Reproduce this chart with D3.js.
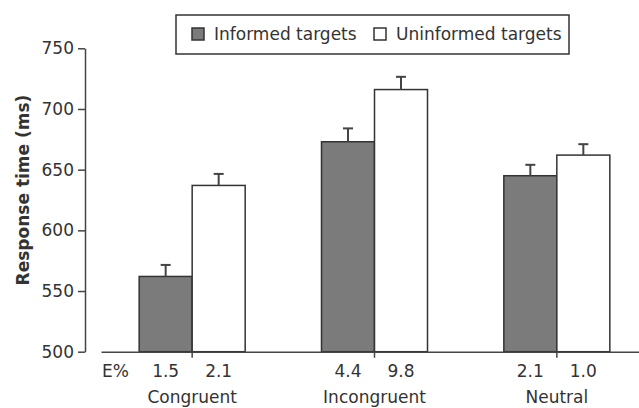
<!DOCTYPE html>
<html>
<head>
<meta charset="utf-8">
<script src="https://cdn.jsdelivr.net/npm/d3@7"></script>
<style>
  body { margin: 0; background: #fff; }
  svg text { font-family: "DejaVu Sans", Verdana, sans-serif; fill: #333; }
</style>
</head>
<body>
<div id="chart"></div>
<script>
// data
const groups = ["Congruent", "Incongruent", "Neutral"];
const series = ["Informed targets", "Uninformed targets"];
const informedRT = [562, 673, 645];
const uninformedRT = [637, 716, 662];
const informedSE = [9.5, 11, 9];
const uninformedSE = [9.5, 10.5, 9];
const informedErr = ["1.5", "4.4", "2.1"];
const uninformedErr = ["2.1", "9.8", "1.0"];
const yTicks = [500, 550, 600, 650, 700, 750];

const rows = [];
groups.forEach((g, i) => {
  rows.push({ group: g, key: series[0], rt: informedRT[i], se: informedSE[i], err: informedErr[i] });
  rows.push({ group: g, key: series[1], rt: uninformedRT[i], se: uninformedSE[i], err: uninformedErr[i] });
});

const svg = d3.select("#chart").append("svg")
  .attr("width", 639)
  .attr("height", 408);

const color = d3.scaleOrdinal().domain(series).range(["#7b7b7b", "#ffffff"]);

// scales
const y = d3.scaleLinear().domain([500, 750]).range([351.7, 48.3]);
const x0 = d3.scaleBand().domain(groups).range([101, 648]);
const x1 = d3.scaleBand().domain(series).range([0, x0.bandwidth()]).paddingOuter(0.72);

// y axis
const yAxis = svg.append("g")
  .attr("transform", "translate(85,0)")
  .call(d3.axisLeft(y).tickValues(yTicks).tickSize(7).tickSizeOuter(0).tickPadding(4));
yAxis.select(".domain").attr("stroke", "#444").attr("stroke-width", 1.5);
yAxis.selectAll(".tick line").attr("stroke", "#444").attr("stroke-width", 1.5);
yAxis.selectAll(".tick text").style("font-size", "17px").attr("fill", "#333");

svg.append("text")
  .attr("transform", "translate(29,190) rotate(-90)")
  .attr("text-anchor", "middle")
  .style("font-size", "17px")
  .style("font-weight", "bold")
  .text("Response time (ms)");

// bars
const bars = svg.append("g");
bars.selectAll("rect")
  .data(rows)
  .join("rect")
  .attr("x", d => x0(d.group) + x1(d.key))
  .attr("y", d => y(d.rt))
  .attr("width", x1.bandwidth())
  .attr("height", d => y(500) - y(d.rt))
  .attr("fill", d => color(d.key))
  .attr("stroke", "#333")
  .attr("stroke-width", 1.5);

// error bars
const cx = d => x0(d.group) + x1(d.key) + x1.bandwidth() / 2;
const eb = svg.append("g").attr("stroke", "#444").attr("stroke-width", 2);
eb.selectAll(".stem")
  .data(rows)
  .join("line")
  .attr("x1", cx).attr("x2", cx)
  .attr("y1", d => y(d.rt)).attr("y2", d => y(d.rt + d.se));
eb.selectAll(".cap")
  .data(rows)
  .join("line")
  .attr("x1", d => cx(d) - 5).attr("x2", d => cx(d) + 5)
  .attr("y1", d => y(d.rt + d.se)).attr("y2", d => y(d.rt + d.se));

// x axis
const xAxis = svg.append("g")
  .attr("transform", "translate(0," + y(500) + ")")
  .call(d3.axisBottom(x0).tickSize(6).tickSizeOuter(0).tickFormat(""));
xAxis.select(".domain").attr("stroke", "#444").attr("stroke-width", 1.5);
xAxis.selectAll(".tick line").attr("stroke", "#444").attr("stroke-width", 1.5);

// error rate row
svg.append("text")
  .attr("x", 102)
  .attr("y", 377)
  .style("font-size", "17px")
  .text("E%");
svg.append("g").selectAll("text")
  .data(rows)
  .join("text")
  .attr("x", cx)
  .attr("y", 377)
  .attr("text-anchor", "middle")
  .style("font-size", "17px")
  .text(d => d.err);

// category labels
svg.append("g").selectAll("text")
  .data(groups)
  .join("text")
  .attr("x", d => x0(d) + x0.bandwidth() / 2)
  .attr("y", 403)
  .attr("text-anchor", "middle")
  .style("font-size", "17px")
  .text(d => d);

// legend
const legend = svg.append("g");
legend.append("rect")
  .attr("x", 176).attr("y", 15)
  .attr("width", 393).attr("height", 39)
  .attr("fill", "#fff")
  .attr("stroke", "#333")
  .attr("stroke-width", 1.5);
const legX = [192, 374];
series.forEach((s, i) => {
  legend.append("rect")
    .attr("x", legX[i]).attr("y", 28)
    .attr("width", 12).attr("height", 12)
    .attr("fill", color(s))
    .attr("stroke", "#333")
    .attr("stroke-width", 1.5);
  legend.append("text")
    .attr("x", legX[i] + 22)
    .attr("y", 40)
    .style("font-size", "17px")
    .text(s);
});
</script>
</body>
</html>
